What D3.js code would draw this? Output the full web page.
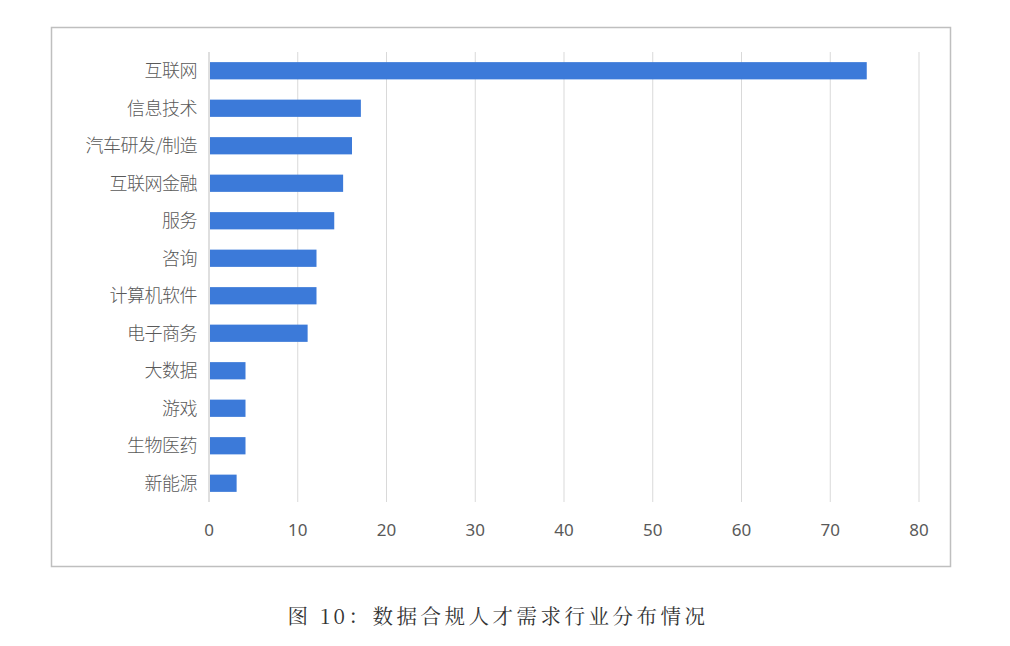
<!DOCTYPE html>
<html><head><meta charset="utf-8">
<script src="https://cdn.jsdelivr.net/npm/d3@7"></script>
<style>body{margin:0;background:#fff}</style></head>
<body><svg id="c" width="1010" height="646"></svg>
<script>
const categories=["互联网","信息技术","汽车研发/制造","互联网金融","服务","咨询","计算机软件","电子商务","大数据","游戏","生物医药","新能源"];
const values=[74,17,16,15,14,12,12,11,4,4,4,3];
const ticks=[0,10,20,30,40,50,60,70,80];
const svg=d3.select("#c");
svg.append("rect").attr("x",51.5).attr("y",27.5).attr("width",899).attr("height",539).attr("fill","#fff").attr("stroke","#bfbfbf").attr("stroke-width",1.5);
const x=d3.scaleLinear().domain([0,80]).range([209,919]);
const y=d3.scaleBand().domain(categories).range([52,502]).paddingInner(0.54).paddingOuter(0.27);
svg.append("g").selectAll("line").data(ticks).join("line")
 .attr("x1",d=>x(d)).attr("x2",d=>x(d)).attr("y1",52).attr("y2",502)
 .attr("stroke",d=>d===0?"#bfbfbf":"#d9d9d9").attr("stroke-width",1);
svg.append("g").selectAll("rect").data(values).join("rect")
 .attr("x",x(0)+1).attr("y",(d,i)=>y(categories[i])).attr("height",y.bandwidth())
 .attr("width",d=>x(d)-x(0)).attr("fill","#3c7ad9");
svg.append("g").selectAll("text").data(categories).join("text")
 .attr("x",197).attr("y",d=>y(d)+y.bandwidth()/2).attr("dy","0.35em").attr("text-anchor","end")
 .attr("font-family","Noto Sans CJK SC").attr("font-weight",300).attr("font-size",18).attr("letter-spacing",-0.5).attr("fill","#595959").text(d=>d);
svg.append("g").selectAll("text").data(ticks).join("text")
 .attr("x",d=>x(d)).attr("y",536).attr("text-anchor","middle")
 .attr("font-family","Noto Sans, sans-serif").attr("font-size",17).attr("fill","#595959").text(d=>d);
svg.append("text").attr("x",498).attr("y",624).attr("text-anchor","middle")
 .attr("font-family","Noto Serif CJK SC, Noto Sans CJK SC").attr("font-size",20.5).attr("fill","#333").attr("letter-spacing",3.5)
 .text("图 10：数据合规人才需求行业分布情况");
</script></body></html>
